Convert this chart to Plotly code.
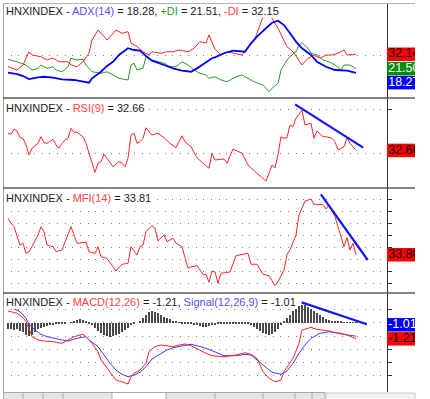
import math
import plotly.graph_objects as go
from plotly.subplots import make_subplots

# ---------------- data (day index, value) ----------------
mdi_days = [0, 3, 5, 7, 8, 11, 13, 15, 17, 20, 21, 23, 25, 27, 28, 30, 31, 33, 34, 36,
            38, 40, 41, 43, 45, 47, 48, 51, 53, 55, 57, 60, 62, 64, 66, 67, 69, 71, 73, 76,
            78, 80, 82, 83, 85, 86, 88, 90, 92, 93, 95, 97, 98, 100, 102, 104, 106, 108, 110, 112,
            113, 116]
mdi_vals = [22.9, 20.5, 24.2, 34.0, 31.6, 30.3, 27.9, 29.4, 26.6, 26.6, 24.2, 22.9, 26.6, 33.1, 42.7,
            50.1, 47.9, 42.7, 45.2, 50.1, 47.7, 48.9, 40.5, 37.8, 34.0, 31.6, 34.0, 32.9, 34.0, 34.0,
            35.3, 34.0, 36.6, 41.5, 40.4, 46.4, 35.9, 31.6, 34.0, 32.9, 31.6, 37.8, 41.5, 47.7, 60.0,
            68.6, 58.8, 51.4, 42.7, 37.8, 34.0, 27.9, 24.2, 29.2, 31.6, 29.2, 31.6, 31.6, 32.9, 35.3,
            31.6, 32.147]

pdi_days = [0, 3, 6, 8, 10, 11, 13, 15, 16, 18, 20, 21, 23, 25, 26, 28, 31, 33, 35, 37,
            40, 41, 42, 43, 45, 46, 48, 50, 52, 54, 56, 58, 60, 62, 64, 66, 67, 69, 71, 73,
            76, 78, 80, 82, 85, 87, 88, 90, 91, 93, 94, 96, 97, 98, 100, 101, 103, 105, 107, 109,
            111, 112, 114, 116]
pdi_vals = [28.4, 26.6, 24.2, 20.5, 21.7, 24.2, 21.7, 22.9, 20.5, 19.2, 22.9, 29.2, 27.9, 28.4, 24.2,
            19.2, 18.0, 19.2, 16.8, 14.3, 13.1, 24.2, 25.5, 20.5, 21.7, 30.3, 27.9, 26.6, 25.5, 22.9,
            22.9, 26.6, 24.2, 20.5, 18.0, 16.8, 14.3, 15.5, 13.1, 11.8, 15.5, 16.8, 14.3, 11.8, 9.4,
            4.4, 7.0, 10.6, 20.5, 27.9, 30.3, 34.0, 39.0, 40.7, 36.6, 32.9, 31.6, 27.9, 26.6, 24.2,
            20.5, 24.2, 24.2, 21.507]

adx_days = [0, 3, 5, 7, 10, 12, 15, 18, 22, 24, 27, 28, 31, 33, 35, 37, 39, 40, 42, 44,
            46, 48, 52, 55, 58, 61, 63, 66, 68, 69, 72, 75, 79, 81, 83, 86, 88, 90, 92, 94,
            96, 98, 101, 103, 106, 109, 111, 113, 116]
adx_vals = [18.5, 17.5, 16.0, 13.8, 15.1, 15.5, 14.8, 13.6, 13.1, 12.3, 11.1, 14.3, 19.2, 23.5, 26.6,
            31.6, 35.3, 36.6, 35.3, 34.8, 30.9, 27.4, 24.2, 21.7, 20.0, 19.2, 21.7, 26.6, 29.2, 29.9,
            32.9, 34.8, 34.0, 40.3, 45.2, 51.4, 55.5, 57.0, 53.8, 47.7, 41.5, 36.6, 31.6, 26.6, 22.9,
            20.5, 20.5, 20.0, 18.277]

rsi_days = [0, 1, 2, 3, 4, 5, 6, 7, 8, 10, 11, 12, 13, 15, 16, 17, 18, 19, 20, 21,
            22, 23, 25, 26, 27, 28, 29, 30, 31, 32, 33, 35, 37, 38, 39, 40, 41, 42, 43, 44,
            45, 46, 47, 48, 50, 52, 54, 56, 58, 59, 61, 63, 65, 67, 68, 69, 71, 72, 73, 75,
            78, 80, 83, 86, 87, 88, 89, 90, 91, 92, 93, 94, 95, 96, 98, 99, 101, 102, 103, 105,
            106, 108, 109, 110, 112, 113, 114, 116]
rsi_vals = [48.5, 47.5, 52.2, 50.6, 44.4, 43.8, 37.7, 28.4, 34.6, 39.2, 45.3, 39.8, 39.2, 42.9, 37.7,
            34.6, 39.2, 42.3, 43.8, 53.1, 49.4, 49.4, 45.3, 39.2, 30.0, 20.8, 12.5, 20.8, 22.2, 29.1,
            25.4, 17.6, 22.2, 20.8, 17.6, 25.4, 46.9, 48.5, 39.2, 40.7, 43.8, 53.6, 49.9, 46.9, 48.5,
            44.4, 39.2, 35.2, 46.2, 40.7, 36.1, 25.9, 20.8, 16.2, 30.0, 23.8, 24.5, 24.7, 20.8, 34.0,
            30.0, 19.2, 11.5, 4.4, 11.5, 19.2, 16.7, 28.4, 45.3, 43.8, 44.4, 56.1, 54.6, 62.3, 70.0,
            56.1, 57.7, 43.8, 50.6, 45.3, 45.3, 43.8, 40.7, 33.0, 36.1, 44.4, 39.2, 32.662]

mfi_days = [0, 1, 2, 3, 4, 5, 6, 7, 8, 10, 11, 12, 13, 15, 16, 18, 20, 21, 22, 23,
            26, 27, 29, 30, 31, 33, 35, 36, 38, 40, 41, 43, 44, 45, 46, 48, 49, 50, 52, 53,
            55, 56, 58, 60, 61, 63, 65, 66, 67, 68, 69, 70, 71, 74, 76, 78, 80, 81, 83, 85,
            87, 89, 90, 92, 93, 94, 96, 97, 99, 101, 102, 105, 106, 107, 109, 110, 112, 113, 114, 115,
            116]
mfi_vals = [64.5, 60.3, 57.5, 50.5, 42.0, 43.5, 35.0, 36.4, 40.6, 50.5, 57.5, 53.2, 42.0, 40.6, 36.4,
            37.8, 50.5, 57.5, 50.5, 43.5, 44.3, 36.4, 35.0, 40.6, 32.2, 30.8, 23.7, 20.1, 25.8, 26.6,
            40.6, 33.6, 40.6, 42.0, 53.2, 58.3, 56.1, 45.4, 50.5, 44.8, 47.7, 43.5, 40.6, 22.4, 23.7,
            24.6, 17.3, 17.3, 10.6, 20.1, 19.3, 9.7, 18.2, 19.3, 33.0, 34.2, 35.0, 25.8, 25.8, 17.3,
            16.2, 7.7, 11.1, 21.0, 34.2, 37.8, 50.5, 67.3, 79.1, 80.8, 76.3, 76.3, 72.4, 75.8, 65.9,
            57.5, 40.6, 48.2, 37.8, 43.5, 33.806]

macd_days = [0, 2, 3, 5, 6, 7, 8, 10, 12, 15, 18, 20, 22, 25, 26, 28, 30, 31, 33, 35,
             36, 38, 40, 41, 42, 44, 46, 47, 49, 51, 53, 55, 57, 59, 61, 63, 66, 68, 72, 76,
             79, 81, 83, 85, 87, 89, 91, 92, 95, 97, 98, 101, 103, 107, 110, 113, 116]
macd_vals = [0.88, 0.78, 0.71, 0.38, 0.08, -0.42, -1.05, -1.30, -1.38, -1.43, -1.55, -1.30, -1.05, -0.87,
             -1.05, -1.55, -2.18, -2.80, -3.43, -4.06, -4.31, -4.44, -4.61, -4.06, -3.80, -3.56, -3.05,
             -2.18, -1.80, -1.68, -1.73, -1.80, -1.68, -1.60, -1.73, -1.98, -2.30, -2.48, -2.56, -2.43,
             -2.26, -2.38, -2.68, -3.68, -4.18, -4.44, -4.31, -3.68, -2.68, -1.55, -0.55, -0.35, -0.50,
             -0.62, -0.80, -0.92, -1.212]

signal_days = [2, 4, 6, 7, 9, 11, 13, 15, 18, 20, 23, 26, 27, 30, 32, 34, 36, 38, 40, 42,
               44, 46, 48, 51, 53, 55, 58, 61, 63, 66, 69, 72, 76, 79, 81, 83, 86, 88, 91, 93,
               95, 97, 99, 101, 104, 107, 111, 113, 116]
signal_vals = [1.03, 0.83, 0.33, -0.12, -0.55, -0.87, -1.05, -1.17, -1.30, -1.38, -1.17, -1.05, -1.30,
               -1.80, -2.43, -3.05, -3.56, -3.88, -4.06, -3.93, -3.73, -3.31, -2.73, -2.30, -2.05, -1.88,
               -1.73, -1.62, -1.73, -1.92, -2.20, -2.48, -2.48, -2.38, -2.43, -2.80, -3.31, -3.73, -3.88,
               -3.63, -3.05, -2.30, -1.68, -1.17, -0.80, -0.68, -0.80, -0.92, -1.012]

hist_vals = [-0.45, -0.5, -0.55, -0.5, -0.6, -0.7, -0.9, -1.0, -0.9, -0.7,
             -0.5, -0.4, -0.3, -0.25, -0.2, -0.15, -0.1, -0.1, -0.05, -0.05,
             0.0, 0.05, 0.15, 0.2, 0.25, 0.2, 0.1, -0.05, -0.2, -0.4,
             -0.6, -0.8, -0.9, -1.0, -1.05, -1.0, -0.95, -0.85, -0.7, -0.55,
             -0.4, -0.2, -0.1, 0.0, 0.15, 0.35, 0.6, 0.8, 0.85, 0.8,
             0.7, 0.55, 0.45, 0.35, 0.25, 0.15, 0.1, 0.05, -0.05, -0.05,
             -0.1, -0.1, -0.15, -0.2, -0.25, -0.3, -0.3, -0.25, -0.2, -0.15,
             -0.1, -0.1, -0.1, -0.05, -0.05, -0.05, -0.1, -0.1, -0.1, -0.1,
             -0.1, -0.15, -0.3, -0.45, -0.6, -0.75, -0.85, -0.92, -0.85, -0.7,
             -0.45, -0.2, 0.1, 0.35, 0.6, 0.85, 1.05, 1.25, 1.35, 1.3,
             1.15, 1.0, 0.85, 0.7, 0.55, 0.4, 0.3, 0.2, 0.15, 0.1,
             0.1, 0.08, 0.05, 0.05, 0.05, 0.05, 0.05]
hist_days = list(range(len(hist_vals)))

rsi_trend_days = [95.7, 118.4]
rsi_trend_vals = [75.2, 35.2]
mfi_trend_days = [104.3, 119.9]
mfi_trend_vals = [84.8, 29.4]
macd_trend_days = [97.9, 119.6]
macd_trend_vals = [1.53, -0.12]

adx_grid = [31]
rsi_grid = [70, 30]
mfi_grid = [80, 70, 60, 50, 40, 30, 20, 10]
macd_grid = [1, 0, -1, -2, -3, -4]

# ---------------- layout constants ----------------
W, H = 430, 399
ML, MR, MT, MB = 3, 15, 4, 7
PW, PH = W - ML - MR, H - MT - MB
MAIN_W = 384
LAB_W = PW - MAIN_W
ROW_PX = [94, 90, 105, 99]
Y_RANGES = [(-0.25, 69.38), (-2.04, 81.06), (1.57, 90.1), (-5.21, 2.233)]
X_RANGE = (-5 / 3, 379 / 3)

RED = "#ff2626"
GREEN = "#2e9a2e"
BLUE = "#0000ff"
SIG_BLUE = "#3d3dff"
TREND = "#1414ff"
FONT = "Arial, 'Liberation Sans', sans-serif"


def px_x(p):
    return (p - ML) / PW


def px_y(p):
    return (H - MB - p) / PH


fig = make_subplots(rows=4, cols=2, shared_xaxes=True, vertical_spacing=0, horizontal_spacing=0,
                    row_heights=ROW_PX, column_widths=[MAIN_W, LAB_W])

# panel 1: ADX / DI
fig.add_trace(go.Scatter(x=pdi_days, y=pdi_vals, mode="lines", line=dict(color=GREEN, width=1)), row=1, col=1)
fig.add_trace(go.Scatter(x=mdi_days, y=mdi_vals, mode="lines", line=dict(color=RED, width=1)), row=1, col=1)
fig.add_trace(go.Scatter(x=adx_days, y=adx_vals, mode="lines", line=dict(color=BLUE, width=1.8)), row=1, col=1)
# panel 2: RSI
fig.add_trace(go.Scatter(x=rsi_days, y=rsi_vals, mode="lines", line=dict(color=RED, width=1)), row=2, col=1)
fig.add_trace(go.Scatter(x=rsi_trend_days, y=rsi_trend_vals, mode="lines", line=dict(color=TREND, width=2.2)), row=2, col=1)
# panel 3: MFI
fig.add_trace(go.Scatter(x=mfi_days, y=mfi_vals, mode="lines", line=dict(color=RED, width=1)), row=3, col=1)
fig.add_trace(go.Scatter(x=mfi_trend_days, y=mfi_trend_vals, mode="lines", line=dict(color=TREND, width=2.2)), row=3, col=1)
# panel 4: MACD
fig.add_trace(go.Bar(x=hist_days, y=hist_vals, width=0.4, marker=dict(color="#4a4a4a", line=dict(width=0))), row=4, col=1)
fig.add_trace(go.Scatter(x=signal_days, y=signal_vals, mode="lines", line=dict(color=SIG_BLUE, width=1)), row=4, col=1)
fig.add_trace(go.Scatter(x=macd_days, y=macd_vals, mode="lines", line=dict(color=RED, width=1)), row=4, col=1)
fig.add_trace(go.Scatter(x=macd_trend_days, y=macd_trend_vals, mode="lines", line=dict(color=TREND, width=2.2)), row=4, col=1)

grids = [adx_grid, rsi_grid, mfi_grid, macd_grid]
for r in range(1, 5):
    yr = Y_RANGES[r - 1]
    fig.update_xaxes(range=list(X_RANGE), visible=False, row=r, col=1)
    fig.update_yaxes(range=list(yr), side="right", showline=True, linecolor="#333333", linewidth=1,
                     ticks="outside", ticklen=4, tickwidth=1, tickcolor="#333333", showticklabels=False,
                     showgrid=True, gridcolor="#7a7a7a", gridwidth=1, griddash="1px,6.7px",
                     tickvals=grids[r - 1], zeroline=False, row=r, col=1)
    fig.update_xaxes(range=[0, LAB_W], visible=False, row=r, col=2)
    fig.update_yaxes(range=list(yr), visible=False, row=r, col=2)


def trunc2(v):
    return f"{math.trunc(v * 100) / 100:.2f}"


def place_labels(items, ppu, gap_px=14):
    gap = gap_px / ppu
    out = []
    for it in items:
        c = it["value"]
        changed = True
        while changed:
            changed = False
            for p in out:
                if abs(c - p["center"]) < gap - 1e-9:
                    c = p["center"] - gap if it["value"] < p["center"] else p["center"] + gap
                    changed = True
        d = dict(it)
        d["center"] = c
        out.append(d)
    return out


panel_labels = [
    [dict(value=mdi_vals[-1], bg="#ff0000", fg="#000000"),
     dict(value=pdi_vals[-1], bg="#078a07", fg="#ffffff"),
     dict(value=adx_vals[-1], bg="#0000ff", fg="#ffffff")],
    [dict(value=rsi_vals[-1], bg="#ff0000", fg="#000000")],
    [dict(value=mfi_vals[-1], bg="#ff0000", fg="#000000")],
    [dict(value=macd_vals[-1], bg="#ff0000", fg="#000000"),
     dict(value=signal_vals[-1], bg="#0000ff", fg="#ffffff")],
]
BOX_H = 13.5
for r in range(1, 5):
    yr = Y_RANGES[r - 1]
    ppu = ROW_PX[r - 1] / (yr[1] - yr[0])
    for lab in place_labels(panel_labels[r - 1], ppu):
        half = BOX_H / 2 / ppu
        fig.add_shape(type="rect", x0=0, x1=LAB_W, y0=lab["center"] - half, y1=lab["center"] + half,
                      fillcolor=lab["bg"], line=dict(width=0), layer="below", row=r, col=2)
        fig.add_trace(go.Scatter(x=[1.2], y=[lab["center"]], mode="text", text=[trunc2(lab["value"])],
                                 textposition="middle right", cliponaxis=True,
                                 textfont=dict(family=FONT, size=12.5, color=lab["fg"])), row=r, col=2)


def span(t, c):
    return f"<span style='color:{c}'>{t}</span>"


titles = [
    f"HNXINDEX - {span('ADX(14)', '#4f4fff')} = {adx_vals[-1]:.2f}, {span('+DI', '#2a9a2a')} = {pdi_vals[-1]:.2f}, {span('-DI', '#ff4444')} = {mdi_vals[-1]:.2f}",
    f"HNXINDEX - {span('RSI(9)', '#ff4444')} = {rsi_vals[-1]:.2f}",
    f"HNXINDEX - {span('MFI(14)', '#ff4444')} = {mfi_vals[-1]:.2f}",
    f"HNXINDEX - {span('MACD(12,26)', '#ff4444')} = {macd_vals[-1]:.2f}, {span('Signal(12,26,9)', '#4f4fff')} = {signal_vals[-1]:.2f}",
]
title_centers = [11, 107.5, 197.5, 301.5]
annotations = []
for t, cy in zip(titles, title_centers):
    annotations.append(dict(text=t, xref="paper", yref="paper", x=px_x(5), y=px_y(cy), xanchor="left",
                            yanchor="middle", showarrow=False, bgcolor="#ffffff", borderpad=0,
                            font=dict(family=FONT, size=11, color="#1a1a1a")))

shapes = []
# top border
shapes.append(dict(type="line", xref="paper", yref="paper", x0=0, x1=1, y0=px_y(3.5), y1=px_y(3.5),
                   line=dict(color="#b4b4b4", width=1)))
# left border
shapes.append(dict(type="line", xref="paper", yref="paper", x0=px_x(3.5), x1=px_x(3.5), y0=px_y(3.5), y1=px_y(399),
                   line=dict(color="#a0a0a0", width=1)))
# separators between panels
for sy in [98, 188, 293]:
    shapes.append(dict(type="line", xref="paper", yref="paper", x0=0, x1=1, y0=px_y(sy), y1=px_y(sy),
                       line=dict(color="#5a5a5a", width=1.5)))
# sheet tab strip
shapes.append(dict(type="rect", xref="paper", yref="paper", x0=px_x(3.5), x1=px_x(325), y0=px_y(392.5), y1=px_y(400),
                   fillcolor="#e6e6e6", line=dict(color="#a8a8a8", width=1)))
shapes.append(dict(type="rect", xref="paper", yref="paper", x0=px_x(112), x1=px_x(166), y0=px_y(392.5), y1=px_y(400),
                   fillcolor="#ffffff", line=dict(color="#a8a8a8", width=1)))
shapes.append(dict(type="rect", xref="paper", yref="paper", x0=px_x(326), x1=px_x(415), y0=px_y(393), y1=px_y(400),
                   fillcolor="#f2f2f2", line=dict(color="#c8c8c8", width=1)))
for tx in [23, 43, 63, 215, 263, 295, 312]:
    shapes.append(dict(type="line", xref="paper", yref="paper", x0=px_x(tx), x1=px_x(tx), y0=px_y(392.5), y1=px_y(400),
                       line=dict(color="#a8a8a8", width=1)))

fig.update_layout(
    width=W, height=H, margin=dict(l=ML, r=MR, t=MT, b=MB),
    paper_bgcolor="#ffffff", plot_bgcolor="#ffffff", showlegend=False,
    annotations=list(fig.layout.annotations) + annotations,
    shapes=list(fig.layout.shapes) + shapes,
    bargap=0, font=dict(family=FONT), hovermode=False,
)

fig.write_html("out.html", config={"displayModeBar": False},
               post_script="document.body.style.margin='0';document.body.style.overflow='hidden';")
